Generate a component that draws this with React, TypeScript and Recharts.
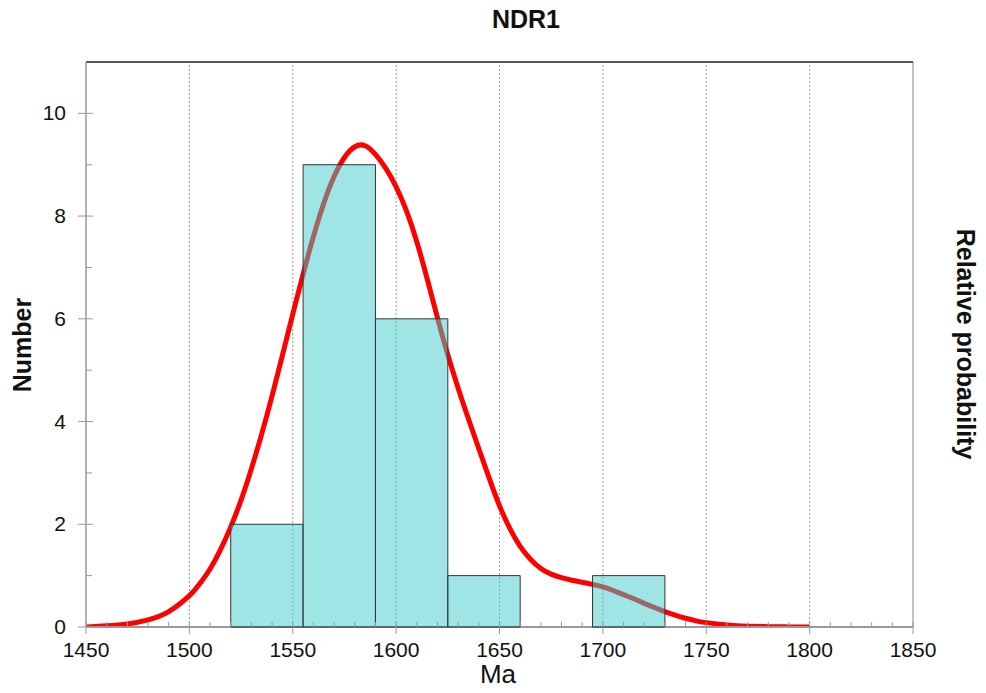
import { ComposedChart, Line, XAxis, YAxis, ReferenceLine, ReferenceArea } from 'recharts'

// age distribution (Ma) and probability curve, scaled to the count axis
const AGES = [
  1450, 1460, 1470, 1480, 1490, 1500, 1505, 1510, 1515, 1520, 1525, 1530, 1535, 1540, 1545,
  1550, 1555, 1560, 1565, 1570, 1575, 1580, 1585, 1590, 1595, 1600, 1605, 1610, 1615, 1620,
  1625, 1630, 1635, 1640, 1645, 1650, 1655, 1660, 1665, 1670, 1675, 1680, 1685, 1690, 1695,
  1700, 1705, 1710, 1715, 1720, 1725, 1730, 1735, 1740, 1745, 1750, 1760, 1770, 1780, 1790,
  1800,
]
const PROB = [
  0.0, 0.023, 0.06, 0.14, 0.3, 0.61, 0.84, 1.13, 1.5, 1.95, 2.47, 3.08, 3.76, 4.5, 5.29,
  6.09, 6.87, 7.6, 8.25, 8.77, 9.14, 9.35, 9.37, 9.2, 8.93, 8.57, 8.1, 7.5, 6.78, 6.02,
  5.3, 4.65, 4.05, 3.47, 2.9, 2.36, 1.92, 1.57, 1.32, 1.14, 1.03, 0.96, 0.91, 0.87, 0.83,
  0.78, 0.71, 0.63, 0.55, 0.46, 0.38, 0.3, 0.23, 0.17, 0.12, 0.085, 0.04, 0.017, 0.007, 0.002,
  0.0,
]

// histogram bins
const BIN_START = [1520, 1555, 1590, 1625, 1695]
const BIN_END = [1555, 1590, 1625, 1660, 1730]
const BIN_COUNT = [2, 9, 6, 1, 1]

const X_TICKS = [
  1450, 1460, 1470, 1480, 1490, 1500, 1510, 1520, 1530, 1540, 1550, 1560, 1570, 1580,
  1590, 1600, 1610, 1620, 1630, 1640, 1650, 1660, 1670, 1680, 1690, 1700, 1710, 1720,
  1730, 1740, 1750, 1760, 1770, 1780, 1790, 1800, 1810, 1820, 1830, 1840, 1850,
]
const X_GRID = [1500, 1550, 1600, 1650, 1700, 1750, 1800]
const Y_TICKS = [0, 1, 2, 3, 4, 5, 6, 7, 8, 9, 10]

const data = AGES.map((age, i) => ({ age, prob: PROB[i] }))

const FONT = '"Liberation Sans", Arial, sans-serif'
const AXIS = '#999'

function XTick({ x, y, payload }: any) {
  const v = payload.value
  if (v % 50 !== 0) {
    return <line x1={x} x2={x} y1={y} y2={y - 5} stroke={AXIS} strokeWidth={1} />
  }
  return (
    <g>
      <line x1={x} x2={x} y1={y - 5} y2={y + 7} stroke={AXIS} strokeWidth={1} />
      <text x={x} y={y + 30} textAnchor="middle" fontSize={21} fontFamily={FONT} fill="#111">
        {v}
      </text>
    </g>
  )
}

function YTick({ x, y, payload }: any) {
  const v = payload.value
  if (v % 2 !== 0) {
    return <line x1={x} x2={x + 6} y1={y} y2={y} stroke={AXIS} strokeWidth={1} />
  }
  return (
    <g>
      <line x1={x - 8} x2={x + 7} y1={y} y2={y} stroke={AXIS} strokeWidth={1} />
      <text x={x - 20} y={y + 7} textAnchor="end" fontSize={21} fontFamily={FONT} fill="#111">
        {v}
      </text>
    </g>
  )
}

export default function App() {
  return (
    <div style={{ position: 'absolute', left: 0, top: 0, width: 986, height: 693, background: '#fff' }}>
      <ComposedChart
        width={986}
        height={693}
        data={data}
        margin={{ top: 62, right: 73, bottom: 36, left: 26 }}
      >
        <XAxis
          dataKey="age"
          type="number"
          domain={[1450, 1850]}
          ticks={X_TICKS}
          interval={0}
          allowDataOverflow
          height={30}
          tickSize={0}
          tickMargin={0}
          tickLine={false}
          axisLine={{ stroke: AXIS, strokeWidth: 2 }}
          tick={<XTick />}
        />
        <YAxis
          type="number"
          domain={[0, 11]}
          ticks={Y_TICKS}
          interval={0}
          allowDataOverflow
          width={60}
          tickSize={0}
          tickMargin={0}
          tickLine={false}
          axisLine={{ stroke: AXIS, strokeWidth: 1.5 }}
          tick={<YTick />}
        />
        {X_GRID.map((v) => (
          <ReferenceLine key={v} x={v} stroke="#999" strokeDasharray="2 2" strokeWidth={1} zIndex={-50} />
        ))}
        <ReferenceLine x={1850} stroke="#c4c4c4" strokeWidth={2} />
        <ReferenceLine y={11} stroke="#555" strokeWidth={2} />
        <Line
          dataKey="prob"
          type="natural"
          stroke="#ff0000"
          strokeWidth={5}
          dot={false}
          activeDot={false}
          isAnimationActive={false}
          zIndex={50}
        />
        {/* histogram bars sit above the curve, half transparent */}
        {BIN_COUNT.map((n, i) => (
          <ReferenceArea
            key={i}
            x1={BIN_START[i]}
            x2={BIN_END[i]}
            y1={0}
            y2={n}
            fill="#40cccc"
            fillOpacity={0.5}
            stroke="#333"
            strokeWidth={1}
            strokeOpacity={1}
            ifOverflow="visible"
            zIndex={500}
          />
        ))}
      </ComposedChart>
      <svg
        width={986}
        height={693}
        style={{ position: 'absolute', left: 0, top: 0, pointerEvents: 'none' }}
        fontFamily={FONT}
      >
        <text x={526} y={28} textAnchor="middle" fontSize={25} fontWeight="bold" fill="#111">
          NDR1
        </text>
        <text x={498} y={683} textAnchor="middle" fontSize={26} fill="#111">
          Ma
        </text>
        <text
          transform="translate(31,345) rotate(-90)"
          textAnchor="middle"
          fontSize={25}
          fontWeight="bold"
          fill="#111"
        >
          Number
        </text>
        <text
          transform="translate(957,344) rotate(90)"
          textAnchor="middle"
          fontSize={25}
          fontWeight="bold"
          fill="#111"
        >
          Relative probability
        </text>
      </svg>
    </div>
  )
}
